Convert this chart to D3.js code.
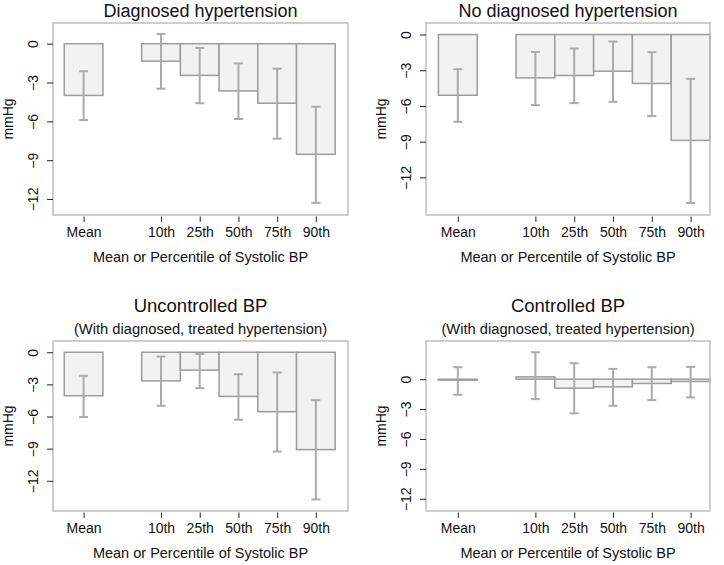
<!DOCTYPE html>
<html>
<head>
<meta charset="utf-8">
<script src="https://cdn.jsdelivr.net/npm/d3@7"></script>
<style>
  html, body { margin: 0; padding: 0; background: #fff; }
  svg { display: block; font-family: "Liberation Sans", Arial, Helvetica, sans-serif; }
</style>
</head>
<body>
<svg id="chart" width="724" height="565"></svg>
<script>
// ---- data ----
const categories = ["Mean", "10th", "25th", "50th", "75th", "90th"];
const slots = [0, 2, 3, 4, 5, 6];   // Mean is separated from percentiles by an empty slot
const yTicks = [0, -3, -6, -9, -12];

const titles = ["Diagnosed hypertension", "No diagnosed hypertension", "Uncontrolled BP", "Controlled BP"];
const subtitles = ["", "", "(With diagnosed, treated hypertension)", "(With diagnosed, treated hypertension)"];

const diagValues = [-4.0, -1.35, -2.45, -3.65, -4.6, -8.55];
const diagLower  = [-5.9, -3.48, -4.6, -5.82, -7.34, -12.3];
const diagUpper  = [-2.13, 0.75, -0.33, -1.52, -1.93, -4.87];

const noDiagValues = [-5.1, -3.64, -3.44, -3.08, -4.11, -8.89];
const noDiagLower  = [-7.33, -5.93, -5.76, -5.65, -6.85, -14.15];
const noDiagUpper  = [-2.91, -1.46, -1.17, -0.59, -1.48, -3.72];

const uncontValues = [-4.06, -2.67, -1.67, -4.12, -5.55, -9.09];
const uncontLower  = [-6.05, -5.0, -3.35, -6.3, -9.27, -13.74];
const uncontUpper  = [-2.2, -0.4, -0.16, -2.05, -1.89, -4.47];

const contValues = [-0.1, 0.23, -0.9, -0.77, -0.43, -0.23];
const contLower  = [-1.57, -2.0, -3.43, -2.67, -2.1, -1.83];
const contUpper  = [1.2, 2.7, 1.6, 1.03, 1.2, 1.23];

const xLabel = "Mean or Percentile of Systolic BP";
const yLabel = "mmHg";

// ---- layout ----
const panels = [
  {vals: diagValues,   lo: diagLower,   hi: diagUpper,   box: [53, 348, 23, 215],  xd: [-0.79, 6.83], yd: [-13.24, 1.6]},
  {vals: noDiagValues, lo: noDiagLower, hi: noDiagUpper, box: [426, 710, 23, 215], xd: [-0.82, 6.5],  yd: [-15.16, 0.97]},
  {vals: uncontValues, lo: uncontLower, hi: uncontUpper, box: [53, 348, 341, 511], xd: [-0.79, 6.83], yd: [-14.82, 1.05]},
  {vals: contValues,   lo: contLower,   hi: contUpper,   box: [426, 710, 341, 511], xd: [-0.82, 6.5], yd: [-13.23, 3.83]}
];

const svg = d3.select("#chart");
const fillC = "#f2f2f2", barStroke = "#9c9c9c", errC = "#ababab", boxC = "#bdbdbd";
const FONT = "Liberation Sans, Arial, sans-serif";

panels.forEach((p, i) => {
  const [x0, x1, y0, y1] = p.box;
  const x = d3.scaleLinear().domain(p.xd).range([x0, x1]);
  const y = d3.scaleLinear().domain(p.yd).range([y1, y0]);
  const bw = x(1) - x(0);
  const g = svg.append("g");

  // bars
  g.selectAll("rect.bar").data(p.vals).enter().append("rect")
    .attr("class", "bar")
    .attr("x", (d, j) => x(slots[j]) - bw / 2)
    .attr("width", bw)
    .attr("y", d => y(Math.max(0, d)))
    .attr("height", d => Math.max(1, Math.abs(y(d) - y(0))))
    .attr("fill", fillC)
    .attr("stroke", barStroke)
    .attr("stroke-width", 1.5);

  // error bars
  const cap = 4.5;
  p.vals.forEach((d, j) => {
    const cx = x(slots[j]);
    g.append("line").attr("x1", cx).attr("x2", cx).attr("y1", y(p.hi[j])).attr("y2", y(p.lo[j]))
      .attr("stroke", errC).attr("stroke-width", 2);
    [p.hi[j], p.lo[j]].forEach(v => {
      g.append("line").attr("x1", cx - cap).attr("x2", cx + cap).attr("y1", y(v)).attr("y2", y(v))
        .attr("stroke", errC).attr("stroke-width", 2);
    });
  });

  // box
  g.append("rect").attr("x", x0).attr("y", y0).attr("width", x1 - x0).attr("height", y1 - y0)
    .attr("fill", "none").attr("stroke", boxC).attr("stroke-width", 1.5);

  // y axis
  const yAx = g.append("g").attr("transform", `translate(${x0},0)`)
    .call(d3.axisLeft(y).tickValues(yTicks).tickSize(6).tickSizeOuter(0).tickFormat(d => d === 0 ? "0" : d3.format("d")(d)));
  yAx.select(".domain").remove();
  yAx.selectAll(".tick line").attr("stroke", "#222");
  yAx.selectAll(".tick text")
    .attr("transform", "rotate(-90)")
    .attr("x", 0).attr("y", -20).attr("dy", "0.35em")
    .attr("text-anchor", "middle")
    .attr("font-size", 14).attr("fill", "#111")
    .attr("font-family", FONT);

  // x axis
  const xAx = g.append("g").attr("transform", `translate(0,${y1})`)
    .call(d3.axisBottom(x).tickValues(slots).tickSize(7).tickSizeOuter(0).tickFormat((d, k) => categories[k]));
  xAx.select(".domain").remove();
  xAx.selectAll(".tick line").attr("stroke", "#222").attr("y1", 1.5);
  xAx.selectAll(".tick text").attr("y", 22).attr("dy", 0)
    .attr("font-size", 14).attr("fill", "#111")
    .attr("font-family", FONT);

  // axis titles
  g.append("text").attr("x", (x0 + x1) / 2).attr("y", y1 + 47)
    .attr("text-anchor", "middle").attr("font-size", 14.5).attr("fill", "#111").text(xLabel);
  g.append("text").attr("transform", `translate(${x0 - 40},${(y0 + y1) / 2}) rotate(-90)`)
    .attr("text-anchor", "middle").attr("font-size", 14).attr("fill", "#111").text(yLabel);

  // titles
  if (subtitles[i]) {
    g.append("text").attr("x", (x0 + x1) / 2).attr("y", y0 - 29.5)
      .attr("text-anchor", "middle").attr("font-size", 18.5).attr("fill", "#111").text(titles[i]);
    g.append("text").attr("x", (x0 + x1) / 2).attr("y", y0 - 7)
      .attr("text-anchor", "middle").attr("font-size", 14.7).attr("fill", "#111").text(subtitles[i]);
  } else {
    g.append("text").attr("x", (x0 + x1) / 2).attr("y", y0 - 6.5)
      .attr("text-anchor", "middle").attr("font-size", 18).attr("fill", "#111").text(titles[i]);
  }
});
</script>
</body>
</html>
